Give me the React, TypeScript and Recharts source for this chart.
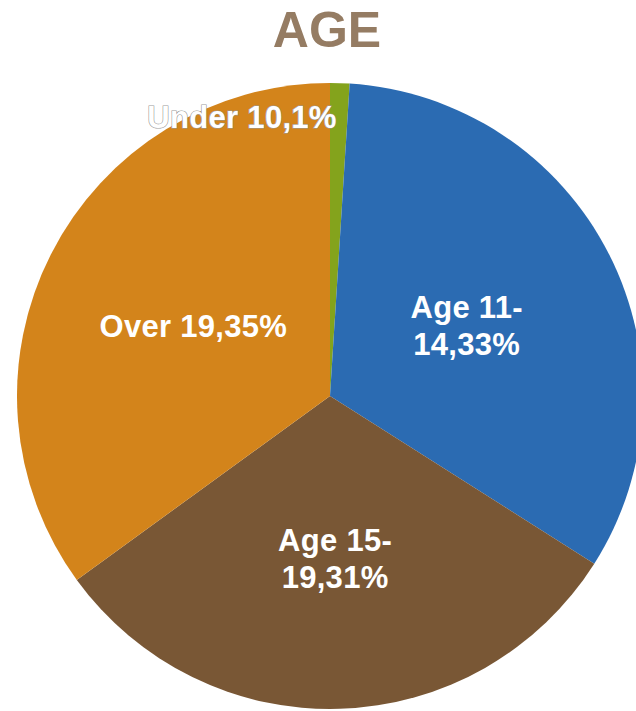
import { Cell, Pie, PieChart } from "recharts";

const categories = ["Under 10", "Age 11-14", "Age 15-19", "Over 19"];
const shares = [1, 33, 31, 35];
const labelLines = [["Under 10,1%"], ["Age 11-", "14,33%"], ["Age 15-", "19,31%"], ["Over 19,35%"]];
const colors = ["#84a31c", "#2b6bb2", "#795735", "#d3841b"];

const data = categories.map((name, i) => ({ name, value: shares[i], lines: labelLines[i] }));

const RAD = Math.PI / 180;

function SliceLabel(props: any) {
  const { cx, cy, midAngle, outerRadius, index } = props;
  const lines: string[] = data[index].lines;
  const font = {
    fontFamily: "Arial, 'Liberation Sans', sans-serif",
    fontWeight: 700,
    fontSize: 31,
    letterSpacing: 0.3,
  };

  if (index === 0) {
    // tiny slice: label sits just left of it, near the rim
    const r = outerRadius * 0.89;
    const x = cx + r * Math.cos(-midAngle * RAD);
    const y = cy + r * Math.sin(-midAngle * RAD);
    return (
      <text
        x={x - 2}
        y={y}
        textAnchor="end"
        dominantBaseline="central"
        fill="#ffffff"
        stroke="#9a9a9a"
        strokeWidth={1.2}
        paintOrder="stroke"
        style={font}
      >
        {lines[0]}
      </text>
    );
  }

  const r = outerRadius * (index === 2 ? 0.52 : 0.49);
  const x = cx + r * Math.cos(-midAngle * RAD);
  const y = cy + r * Math.sin(-midAngle * RAD);
  const lh = 37;
  const top = y - ((lines.length - 1) * lh) / 2;
  return (
    <text x={x} y={top} textAnchor="middle" fill="#ffffff" style={font}>
      {lines.map((t, k) => (
        <tspan key={k} x={x} y={top + k * lh} dominantBaseline="central">
          {t}
        </tspan>
      ))}
    </text>
  );
}

export default function App() {
  return (
    <div style={{ position: "relative", width: 636, height: 711, overflow: "hidden", background: "#fff" }}>
      <style>{`body{margin:0}`}</style>
      <div
        style={{
          position: "absolute",
          left: 0,
          width: 654,
          top: 2,
          textAlign: "center",
          fontFamily: "Arial, 'Liberation Sans', sans-serif",
          fontWeight: 700,
          fontSize: 50,
          lineHeight: "56px",
          color: "#957c63",
        }}
      >
        AGE
      </div>
      <PieChart width={636} height={711} margin={{ top: 0, right: 0, bottom: 0, left: 0 }}>
        <Pie
          data={data}
          dataKey="value"
          nameKey="name"
          cx={330}
          cy={396}
          outerRadius={313}
          startAngle={90}
          endAngle={-270}
          stroke="none"
          labelLine={false}
          label={SliceLabel}
          isAnimationActive={false}
        >
          {data.map((d, i) => (
            <Cell key={d.name} fill={colors[i]} />
          ))}
        </Pie>
      </PieChart>
    </div>
  );
}
